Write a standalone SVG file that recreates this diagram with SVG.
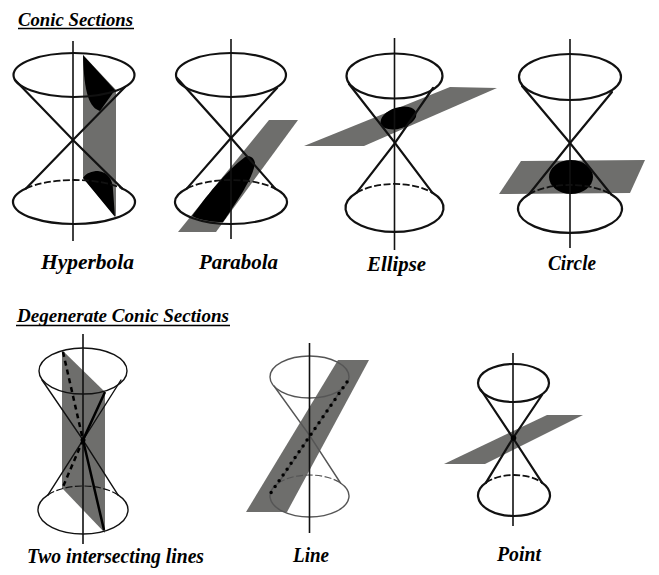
<svg xmlns="http://www.w3.org/2000/svg" width="659" height="575" viewBox="0 0 659 575">
<style>
.ln{fill:none;stroke:#111;stroke-width:2.200;stroke-linecap:round}
.ax{fill:none;stroke:#111;stroke-width:1.6}
.ds{fill:none;stroke:#111;stroke-width:1.8;stroke-dasharray:7 2.500}
.thin .ln{stroke:#555;stroke-width:1.4}
.thin .ds{stroke:#555;stroke-width:1.2}
.thin2 .ln{stroke-width:1.4}
.thin2 .ds{stroke-width:1.2}
.pl{fill:#6e6e6c}
.bk{fill:#000}
.lb{font-family:"Liberation Serif","DejaVu Serif",serif;font-style:italic;font-weight:bold;fill:#000}
.hd{stroke:#000;stroke-width:1.4}
</style>
<rect width="659" height="575" fill="#fff"/>
<g id="heading-conic"><text class="lb" x="18" y="26" font-size="19" textLength="115" lengthAdjust="spacingAndGlyphs">Conic Sections</text><line class="hd" x1="18" y1="28.5" x2="134" y2="28.5"/></g>
<g id="heading-degenerate"><text class="lb" x="17" y="322" font-size="19" textLength="212" lengthAdjust="spacingAndGlyphs">Degenerate Conic Sections</text><line class="hd" x1="16" y1="325.5" x2="230" y2="325.5"/></g>

<g id="hyperbola">
<polygon class="pl" points="83,55 116,90 116,217 83,178"/>
<path class="bk" d="M83,55L115,90L100,111C90,108 84,95 83,55Z"/>
<path class="bk" d="M83,178C86,173 92,171 98,171C108,172 113,180 113,190L115,217Z"/>
<ellipse class="ln" cx="74" cy="75" rx="60.5" ry="22"/>
<path class="ln" d="M15,80L73,140L125,87"/>
<path class="ln" d="M26,188.400L73,140L122,188.400"/>
<path class="ln" d="M26,188.400A61,22 0 1 0 122,188.400"/>
<path class="ds" d="M26,188.400A61,22 0 0 1 122,188.400"/>
<line class="ax" x1="73" y1="41" x2="73" y2="241"/>
<text class="lb" x="41" y="269" font-size="20" textLength="93" lengthAdjust="spacingAndGlyphs">Hyperbola</text>
</g>

<g id="parabola">
<polygon class="pl" points="269,120 298,120 216,232 178,232"/>
<path class="bk" d="M192,216C205,198 225,172 245,157C250,155 254,158 255,163C253,178 238,200 223,222C212,222 200,220 192,216Z"/>
<ellipse class="ln" cx="231" cy="75" rx="55" ry="22"/>
<path class="ln" d="M177,78L231,138L277,88"/>
<path class="ln" d="M187,188.400L231,138L275,188.400"/>
<path class="ln" d="M187,188.400A56,22 0 1 0 275,188.400"/>
<path class="ds" d="M187,188.400A56,22 0 0 1 275,188.400"/>
<line class="ax" x1="231" y1="39" x2="231" y2="239"/>
<text class="lb" x="199" y="269" font-size="20" textLength="79" lengthAdjust="spacingAndGlyphs">Parabola</text>
</g>

<g id="ellipse">
<polygon class="pl" points="304,146 450,87 497,88 364,146"/>
<ellipse class="bk" cx="398.500" cy="118" rx="18.500" ry="10.500" transform="rotate(-18 398.500 118)"/>
<ellipse class="ln" cx="394.500" cy="76" rx="48" ry="22.500"/>
<path class="ln" d="M349,84L395,143L433,88"/>
<path class="ln" d="M356.500,192.800L395,143L432.500,192.800"/>
<path class="ln" d="M356.500,192.800A49,24 0 1 0 432.500,192.800"/>
<path class="ds" d="M356.500,192.800A49,24 0 0 1 432.500,192.800"/>
<line class="ax" x1="394.500" y1="38" x2="394.500" y2="250"/>
<text class="lb" x="367" y="271" font-size="20" textLength="59" lengthAdjust="spacingAndGlyphs">Ellipse</text>
</g>

<g id="circle">
<polygon class="pl" points="521,161 645,160 630,193 499,194"/>
<ellipse class="bk" cx="571" cy="177" rx="22" ry="17"/>
<ellipse class="ln" cx="570" cy="77" rx="51" ry="23"/>
<path class="ln" d="M522,86L570,143L612,92"/>
<path class="ln" d="M529,194.200L570,143L611,194.200"/>
<path class="ln" d="M529,194.200A52,24 0 1 0 611,194.200"/>
<path class="ds" d="M529,194.200A52,24 0 0 1 611,194.200"/>
<line class="ax" x1="570" y1="39" x2="570" y2="248"/>
<text class="lb" x="548" y="270" font-size="20" textLength="48" lengthAdjust="spacingAndGlyphs">Circle</text>
</g>

<g id="two-intersecting-lines" class="thin2">
<polygon class="pl" points="62,350 105,392 105,533 62,488"/>
<ellipse class="ln" cx="83" cy="371" rx="44" ry="23"/>
<path class="ln" d="M42,380L83,440L121,380"/>
<path class="ln" d="M48,494.900L83,440L118,494.900"/>
<path class="ln" d="M48,494.900A45,24 0 1 0 118,494.900"/>
<path class="ds" d="M48,494.900A45,24 0 0 1 118,494.900"/>
<line class="ax" x1="83" y1="334" x2="83" y2="544"/>
<path fill="none" stroke="#000" stroke-width="2.500" d="M105,392L83,440L104,530"/>
<path fill="none" stroke="#000" stroke-width="2.500" stroke-dasharray="5 4" d="M63,352L83,440L62,489"/>
<circle class="bk" cx="83" cy="440" r="2.500"/>
<text class="lb" x="27" y="563" font-size="20" textLength="177" lengthAdjust="spacingAndGlyphs">Two intersecting lines</text>
</g>

<g id="line" class="thin">
<polygon class="pl" points="338,360 369,360 287,512 246,512"/>
<ellipse class="ln" cx="309.500" cy="377" rx="39.500" ry="21"/>
<path class="ln" d="M274,386L310,436L343,387"/>
<path class="ln" d="M278.500,483L310,436L340.500,483"/>
<path class="ln" d="M278.500,483A39.500,21 0 1 0 340.500,483"/>
<path class="ds" d="M278.500,483A39.500,21 0 0 1 340.500,483"/>
<line class="ax" x1="309.500" y1="343" x2="309.500" y2="533"/>
<line x1="347" y1="382" x2="270" y2="494" stroke="#000" stroke-width="3.500" stroke-linecap="round" stroke-dasharray="0 7.050"/>
<text class="lb" x="293" y="562" font-size="20" textLength="36" lengthAdjust="spacingAndGlyphs">Line</text>
</g>

<g id="point">
<polygon class="pl" points="444,464 547,415 583,415 485,464"/>
<ellipse class="ln" cx="513.500" cy="383" rx="35.500" ry="19"/>
<path class="ln" d="M481,390L513,438L542,395"/>
<path class="ln" d="M486,482.600L513,438L542,482.600"/>
<path class="ln" d="M486,482.600A36,20.500 0 1 0 542,482.600"/>
<path class="ds" d="M486,482.600A36,20.500 0 0 1 542,482.600"/>
<line class="ax" x1="513" y1="353" x2="513" y2="526"/>
<circle class="bk" cx="513.500" cy="438" r="2.800"/>
<text class="lb" x="497" y="561" font-size="20" textLength="44" lengthAdjust="spacingAndGlyphs">Point</text>
</g>
</svg>
